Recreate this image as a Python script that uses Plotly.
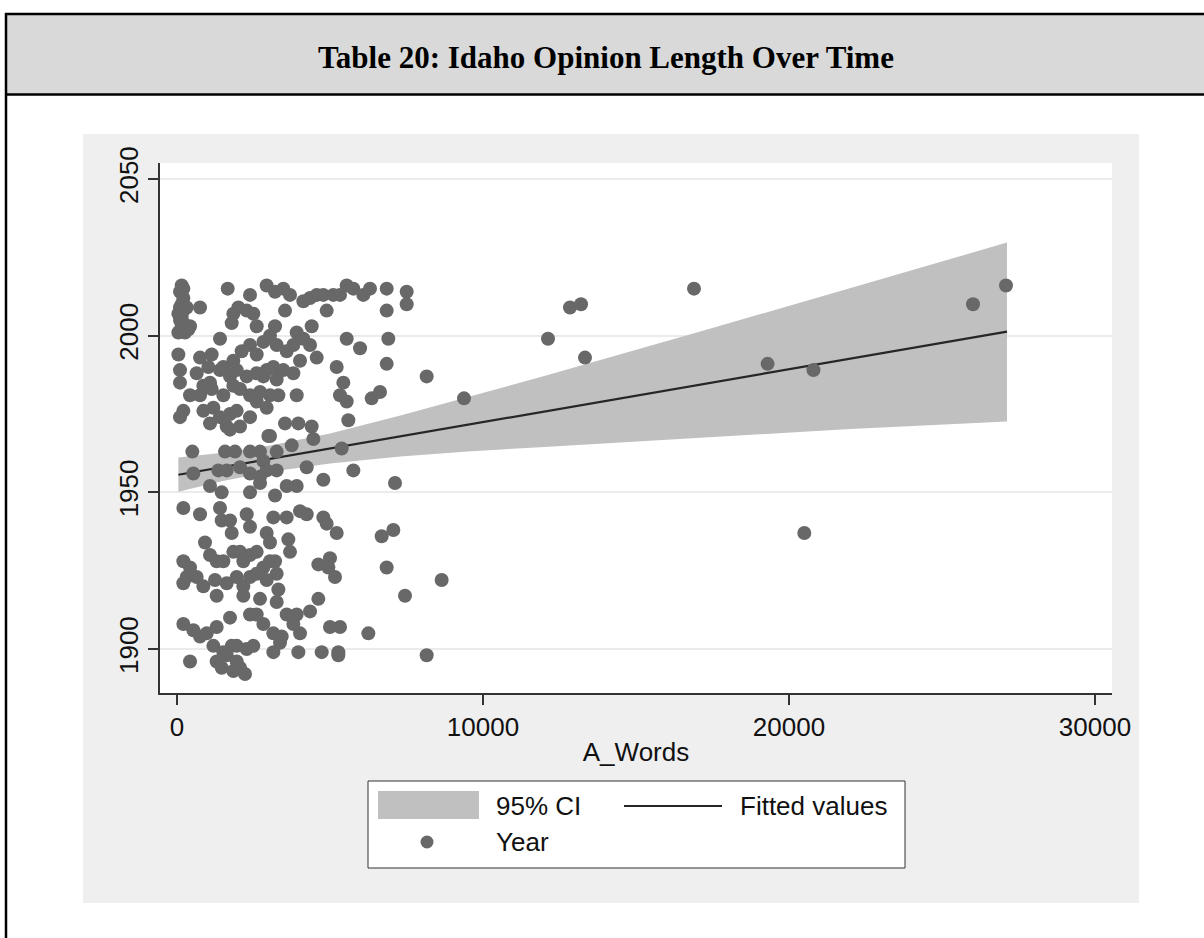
import plotly.graph_objects as go

# ---------------- data ----------------
a_words = [
    153, 207, 98, 207, 153, 98, 207, 153, 98, 207, 153, 44, 371, 262, 425, 44, 316,
    1656, 752, 2386, 2930, 3203, 3475, 3693, 3530, 4129, 4347, 4565, 4782, 4891, 5109, 5327, 5545,
    5763, 6089, 6307, 6852, 6852, 7506, 7506, 2005, 2277, 1841, 2495, 2604, 1787, 3203, 4401, 3911,
    4129, 4347, 5545, 5981, 6906, 6852, 8159, 5218, 5436, 5327, 5545, 5599, 6362, 6634,
    44, 752, 1133, 1405, 1024, 98, 98, 643, 1514, 1841, 2113, 2386, 2604, 2822, 3039, 3257, 3584,
    3802, 4020, 4565, 2930, 3148, 3475, 3802, 3257, 2822, 2604, 2277, 1950, 1732, 1405, 1079, 861,
    425, 752, 1133, 1514, 1841, 2059, 2386, 2713, 3039, 3312, 3911, 207, 98, 861, 1188, 1405, 1732,
    1950, 2386, 1079, 1623, 1732, 2059, 2604, 2930, 3530, 3965, 4401, 4456, 2985, 3748,
    501, 534, 1569, 1896, 2386, 2713, 2822, 3039, 3257, 1351, 1623, 2059, 2386, 2713, 2930, 3257,
    1079, 1460, 2386, 2713, 3203, 3584, 3911, 4238, 4782, 5381, 5763, 7124, 207, 752, 1405, 2277,
    3148, 3584, 4020, 4238, 4782,
    1460, 1732, 1787, 2386, 2930, 3039, 3638, 4891, 5218, 915, 6689, 7070, 207, 425, 207, 316, 643,
    861, 1079, 1296, 1514, 1841, 2059, 2168, 2386, 2604, 2822, 3039, 3203, 3257, 3693, 1242, 1296,
    1623, 1950, 2168, 2168, 2386, 2604, 2930, 3312, 3257, 2713, 2604, 2386, 2822, 3584, 3911, 3802,
    4020, 4347, 4619, 4619, 4999, 4946, 5163, 6852, 7451, 8649, 207, 534, 752, 970, 1296, 1188, 1732,
    1787, 1514, 1950, 2277, 2495, 3148, 3421, 3366, 3148, 3965, 4728, 5272, 5327, 4999, 5272, 6253,
    8159, 425, 1296, 1460, 1623, 1841, 2059, 2222, 1950,
    9379, 12124, 12843, 13203, 13333, 16895, 19300, 20800, 20500, 26013, 27092,
]
year = [
    2016, 2015, 2014, 2012, 2010, 2009, 2008, 2006, 2005, 2004, 2003, 2001, 2002, 2001, 2003, 2007, 2009,
    2015, 2009, 2013, 2016, 2014, 2015, 2013, 2008, 2011, 2012, 2013, 2013, 2008, 2013, 2013, 2016,
    2015, 2013, 2015, 2015, 2008, 2014, 2010, 2009, 2008, 2007, 2007, 2003, 2004, 2003, 2003, 2001,
    1999, 1997, 1999, 1996, 1999, 1991, 1987, 1990, 1985, 1981, 1979, 1973, 1980, 1982,
    1994, 1993, 1994, 1999, 1990, 1989, 1985, 1988, 1990, 1992, 1995, 1997, 1994, 1998, 2000, 1997, 1995,
    1997, 1992, 1993, 1989, 1990, 1989, 1988, 1986, 1987, 1988, 1987, 1989, 1987, 1989, 1985, 1984,
    1981, 1981, 1983, 1981, 1984, 1983, 1981, 1982, 1981, 1981, 1981, 1976, 1974, 1976, 1977, 1974, 1975,
    1976, 1974, 1972, 1971, 1970, 1971, 1979, 1977, 1972, 1972, 1971, 1967, 1968, 1965,
    1963, 1956, 1963, 1963, 1963, 1963, 1960, 1968, 1963, 1957, 1957, 1958, 1956, 1955, 1957, 1957,
    1952, 1950, 1950, 1953, 1949, 1952, 1952, 1958, 1954, 1964, 1957, 1953, 1945, 1943, 1945, 1943,
    1942, 1942, 1944, 1943, 1942,
    1941, 1941, 1937, 1939, 1937, 1934, 1935, 1940, 1937, 1934, 1936, 1938, 1928, 1926, 1921, 1923, 1923,
    1920, 1930, 1928, 1928, 1931, 1931, 1928, 1930, 1931, 1926, 1928, 1928, 1924, 1931, 1922, 1917,
    1921, 1923, 1920, 1917, 1923, 1924, 1922, 1919, 1915, 1916, 1911, 1911, 1908, 1911, 1911, 1908,
    1905, 1912, 1916, 1927, 1929, 1926, 1923, 1926, 1917, 1922, 1908, 1906, 1904, 1905, 1907, 1901, 1910,
    1901, 1899, 1901, 1900, 1901, 1905, 1904, 1902, 1899, 1899, 1899, 1899, 1907, 1907, 1898, 1905,
    1898, 1896, 1896, 1894, 1898, 1893, 1894, 1892, 1896,
    1980, 1999, 2009, 2010, 1993, 2015, 1991, 1989, 1937, 2010, 2016,
]

fit_x = [44, 27124]
fit_y = [1955.6, 2001.3]
ci_x = [44, 1500, 3000, 5000, 7300, 9500, 12000, 17100, 22000, 27124]
ci_hi = [1961.1, 1962.6, 1964.9, 1968.8, 1974.5, 1980.3, 1987.1, 2001.3, 2015.2, 2029.7]
ci_lo = [1950.2, 1953.6, 1956.5, 1959.2, 1961.4, 1963.0, 1964.5, 1967.4, 1970.2, 1972.6]

x_ticks = [0, 10000, 20000, 30000]
x_ticktext = ["0", "10000", "20000", "30000"]
y_ticks = [1900, 1950, 2000, 2050]
y_ticktext = ["1900", "1950", "2000", "2050"]

title_text = "Table 20: Idaho Opinion Length Over Time"
x_title = "A_Words"
legend_labels = ["95% CI", "Fitted values", "Year"]

# ---------------- layout geometry (pixels) ----------------
W, H = 1204, 938
L, R, T, B = 160, 1112, 163, 693


def xp(px):
    return (px - L) / (R - L)


def yp(py):
    return (B - py) / (B - T)


SANS = "Liberation Sans, Arial, sans-serif"
SERIF = "Liberation Serif, Times New Roman, serif"
DOT = "#686868"
BAND = "#c0c0c0"
LINE = "#262626"

fig = go.Figure()
fig.add_trace(go.Scatter(x=ci_x, y=ci_lo, mode="lines", line=dict(width=0),
                         showlegend=False, hoverinfo="skip"))
fig.add_trace(go.Scatter(x=ci_x, y=ci_hi, mode="lines", line=dict(width=0),
                         fill="tonexty", fillcolor=BAND, name=legend_labels[0],
                         showlegend=False))
fig.add_trace(go.Scatter(x=fit_x, y=fit_y, mode="lines",
                         line=dict(color=LINE, width=2.2), name=legend_labels[1],
                         showlegend=False))
fig.add_trace(go.Scatter(x=a_words, y=year, mode="markers",
                         marker=dict(size=14, color=DOT, line=dict(width=0)),
                         name=legend_labels[2], showlegend=False))

axis_common = dict(
    showline=True, linecolor="#333333", linewidth=1.5,
    ticks="outside", ticklen=10, tickwidth=1.5, tickcolor="#333333",
    tickfont=dict(family=SANS, size=26, color="#111111"),
    zeroline=False,
)
fig.update_xaxes(range=[-556, 30556], tickmode="array", tickvals=x_ticks,
                 ticktext=x_ticktext, showgrid=False,
                 title=dict(text=x_title, font=dict(family=SANS, size=26, color="#111111"),
                            standoff=2),
                 **axis_common)
fig.update_yaxes(range=[1885.96, 2055.1], tickmode="array", tickvals=y_ticks,
                 ticktext=y_ticktext, tickangle=-90, showgrid=True,
                 gridcolor="#ebebeb", gridwidth=2, **axis_common)

shapes = [
    # graph region (light gray) and plot region (white)
    dict(type="rect", xref="paper", yref="paper", x0=xp(83), x1=xp(1139), y0=yp(903), y1=yp(134),
         fillcolor="#efefef", line=dict(width=0), layer="below"),
    dict(type="rect", xref="paper", yref="paper", x0=0, x1=1, y0=0, y1=1,
         fillcolor="white", line=dict(width=0), layer="below"),
    # header band
    dict(type="rect", xref="paper", yref="paper", x0=xp(6), x1=xp(1210), y0=yp(94), y1=yp(14),
         fillcolor="#d9d9d9", line=dict(width=0), layer="below"),
    dict(type="line", xref="paper", yref="paper", x0=xp(5), x1=xp(1210), y0=yp(14), y1=yp(14),
         line=dict(color="black", width=2.5)),
    dict(type="line", xref="paper", yref="paper", x0=xp(5), x1=xp(1210), y0=yp(94.5), y1=yp(94.5),
         line=dict(color="black", width=2.5)),
    dict(type="line", xref="paper", yref="paper", x0=xp(6), x1=xp(6), y0=yp(13), y1=yp(945),
         line=dict(color="black", width=2.5)),
    # legend box
    dict(type="rect", xref="paper", yref="paper", x0=xp(368), x1=xp(905), y0=yp(868), y1=yp(781),
         fillcolor="white", line=dict(color="#333333", width=1)),
    dict(type="rect", xref="paper", yref="paper", x0=xp(378), x1=xp(479), y0=yp(819), y1=yp(791),
         fillcolor=BAND, line=dict(width=0)),
    dict(type="line", xref="paper", yref="paper", x0=xp(624), x1=xp(722), y0=yp(806), y1=yp(806),
         line=dict(color=LINE, width=2.2)),
    dict(type="circle", xref="paper", yref="paper", x0=xp(420.5), x1=xp(433.5),
         y0=yp(848.5), y1=yp(835.5), fillcolor=DOT, line=dict(width=0)),
]

annotations = [
    dict(text="<b>" + title_text + "</b>", xref="paper", yref="paper", x=xp(606), y=yp(58),
         xanchor="center", yanchor="middle", showarrow=False,
         font=dict(family=SERIF, size=31, color="black")),
    dict(text=legend_labels[0], xref="paper", yref="paper", x=xp(494), y=yp(806),
         xanchor="left", yanchor="middle", showarrow=False,
         font=dict(family=SANS, size=26, color="#111111")),
    dict(text=legend_labels[1], xref="paper", yref="paper", x=xp(738), y=yp(806),
         xanchor="left", yanchor="middle", showarrow=False,
         font=dict(family=SANS, size=26, color="#111111")),
    dict(text=legend_labels[2], xref="paper", yref="paper", x=xp(494), y=yp(842),
         xanchor="left", yanchor="middle", showarrow=False,
         font=dict(family=SANS, size=26, color="#111111")),
]

fig.update_layout(
    width=W, height=H,
    margin=dict(l=L, r=W - R, t=T, b=H - B, pad=0),
    paper_bgcolor="white", plot_bgcolor="white",
    showlegend=False, shapes=shapes, annotations=annotations,
    font=dict(family=SANS),
)

fig.write_html("out.html")
